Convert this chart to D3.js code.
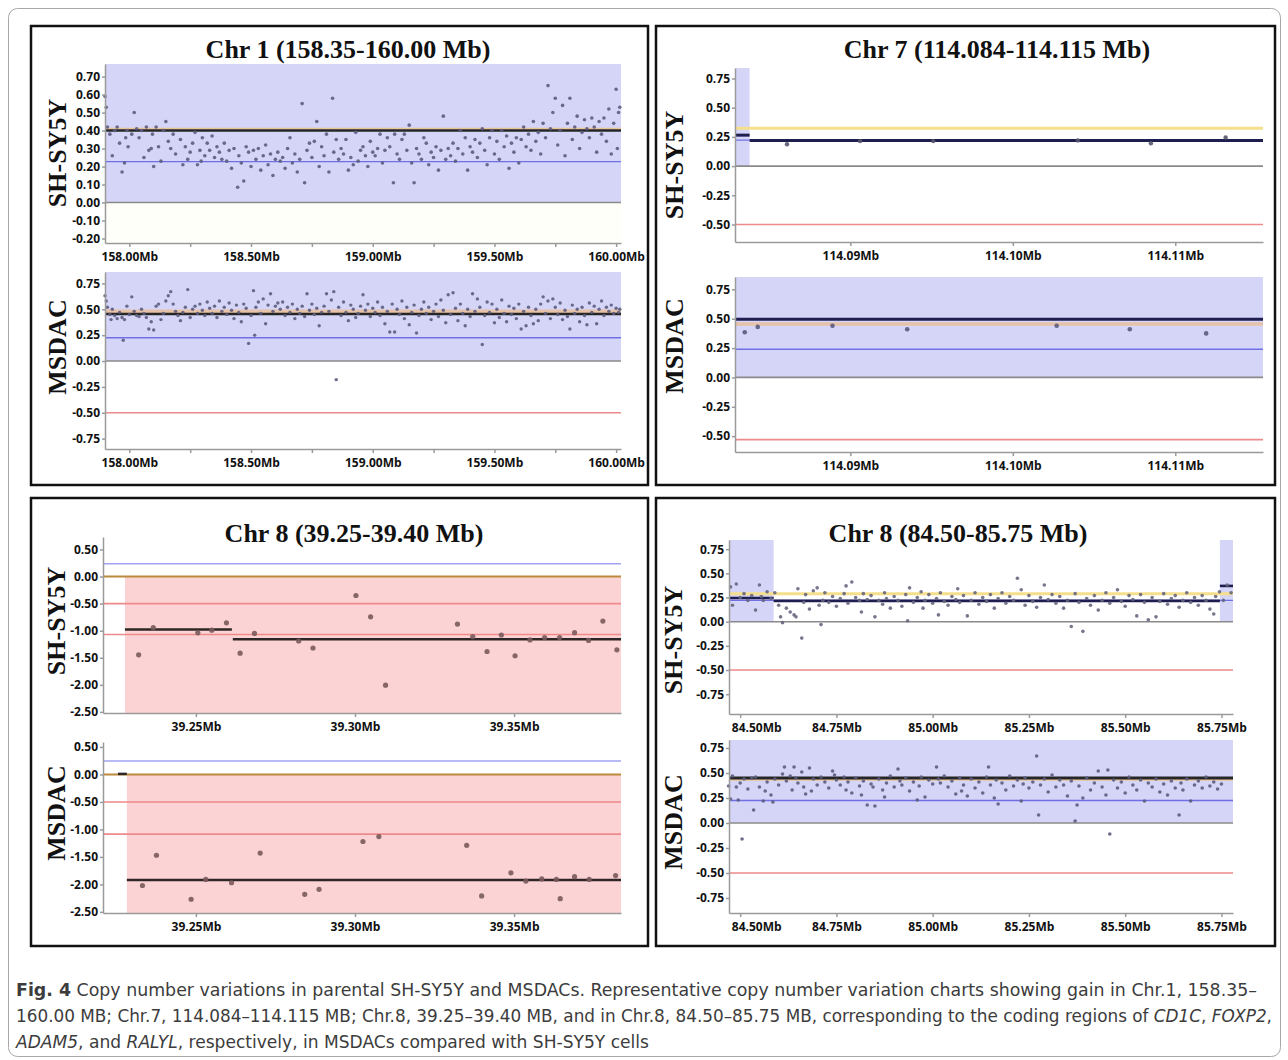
<!DOCTYPE html>
<html>
<head>
<meta charset="utf-8">
<script src="https://cdn.jsdelivr.net/npm/d3@7"></script>
<style>
  body { margin: 0; background: #fff; }
  svg { display: block; }
</style>
</head>
<body>
<script>
"use strict"

// ---------- data (Mb, log2 ratio) ----------
const titles = ['Chr 1 (158.35-160.00 Mb)', 'Chr 7 (114.084-114.115 Mb)', 'Chr 8 (39.25-39.40 Mb)', 'Chr 8 (84.50-85.75 Mb)']
const trackNames = ['SH-SY5Y', 'MSDAC']

const chr1_sh = [
  [157.900,0.59],[157.905,0.53],[157.910,0.42],[157.920,0.38],[157.930,0.26],[157.940,0.40],[157.950,0.42],[157.960,0.33],[157.970,0.17],[157.980,0.22],[157.985,0.36],[157.990,0.40],[157.995,0.31],
  [158.010,0.38],[158.020,0.50],[158.030,0.41],[158.040,0.36],[158.050,0.40],[158.060,0.25],[158.070,0.42],[158.080,0.29],[158.090,0.30],[158.095,0.38],[158.100,0.20],
  [158.110,0.42],[158.120,0.31],[158.130,0.23],[158.140,0.40],[158.150,0.45],[158.160,0.34],[158.170,0.30],[158.180,0.38],[158.190,0.27],
  [158.210,0.35],[158.220,0.21],[158.230,0.31],[158.240,0.24],[158.250,0.28],[158.260,0.33],[158.270,0.39],[158.280,0.21],[158.290,0.29],[158.295,0.23],
  [158.300,0.36],[158.310,0.26],[158.320,0.33],[158.330,0.29],[158.340,0.37],[158.350,0.25],[158.360,0.31],[158.370,0.28],[158.380,0.24],[158.390,0.33],
  [158.400,0.23],[158.410,0.29],[158.420,0.19],[158.430,0.30],[158.445,0.085],[158.450,0.26],[158.460,0.22],[158.470,0.12],[158.480,0.31],[158.490,0.28],[158.500,0.20],
  [158.510,0.29],[158.520,0.24],[158.530,0.30],[158.540,0.18],[158.550,0.26],[158.560,0.32],[158.570,0.21],[158.580,0.27],[158.590,0.15],[158.600,0.24],
  [158.610,0.28],[158.620,0.23],[158.630,0.25],[158.640,0.19],[158.650,0.30],[158.660,0.36],[158.670,0.22],[158.680,0.27],[158.690,0.17],[158.700,0.24],
  [158.710,0.55],[158.720,0.11],[158.730,0.29],[158.740,0.33],[158.750,0.25],[158.760,0.34],[158.770,0.45],[158.780,0.20],[158.790,0.31],[158.800,0.26],
  [158.810,0.38],[158.820,0.17],[158.835,0.58],[158.840,0.28],[158.850,0.35],[158.860,0.24],[158.870,0.30],[158.880,0.27],[158.890,0.35],[158.900,0.18],
  [158.910,0.25],[158.920,0.21],[158.930,0.39],[158.940,0.23],[158.950,0.29],[158.960,0.31],[158.970,0.26],[158.980,0.20],[158.990,0.34],[159.000,0.28],
  [159.010,0.26],[159.020,0.30],[159.030,0.38],[159.040,0.22],[159.050,0.29],[159.060,0.36],[159.070,0.31],[159.085,0.11],[159.090,0.38],[159.100,0.27],
  [159.110,0.24],[159.120,0.35],[159.130,0.38],[159.140,0.29],[159.150,0.43],[159.160,0.22],[159.170,0.11],[159.180,0.30],[159.190,0.27],[159.200,0.24],
  [159.210,0.36],[159.220,0.33],[159.230,0.21],[159.240,0.28],[159.250,0.25],[159.260,0.31],[159.270,0.18],[159.280,0.29],[159.290,0.48],[159.300,0.24],
  [159.310,0.30],[159.320,0.26],[159.330,0.33],[159.340,0.23],[159.350,0.30],[159.360,0.40],[159.370,0.27],[159.380,0.36],[159.390,0.18],[159.400,0.31],
  [159.410,0.28],[159.420,0.35],[159.430,0.25],[159.440,0.33],[159.450,0.41],[159.460,0.29],[159.470,0.21],[159.480,0.36],[159.490,0.40],[159.500,0.27],
  [159.510,0.34],[159.520,0.24],[159.530,0.40],[159.540,0.31],[159.550,0.37],[159.560,0.19],[159.570,0.33],[159.580,0.28],[159.590,0.36],[159.600,0.22],
  [159.610,0.35],[159.620,0.42],[159.630,0.31],[159.640,0.38],[159.650,0.29],[159.660,0.45],[159.670,0.34],[159.680,0.39],[159.690,0.27],[159.700,0.44],
  [159.710,0.36],[159.720,0.65],[159.730,0.41],[159.740,0.50],[159.750,0.58],[159.760,0.32],[159.770,0.40],[159.780,0.54],[159.790,0.26],[159.800,0.44],
  [159.810,0.58],[159.820,0.35],[159.830,0.42],[159.840,0.48],[159.850,0.30],[159.860,0.39],[159.870,0.46],[159.880,0.41],[159.890,0.36],[159.900,0.47],
  [159.910,0.42],[159.920,0.28],[159.930,0.45],[159.940,0.38],[159.950,0.47],[159.960,0.34],[159.970,0.52],[159.980,0.27],[159.990,0.44],[160.000,0.63],[160.005,0.30],[160.010,0.50],[160.015,0.53]
]

const chr1_ms = [
  [157.900,0.63],[157.905,0.58],[157.910,0.52],[157.920,0.45],[157.925,0.40],[157.930,0.50],[157.940,0.44],[157.950,0.41],[157.960,0.47],[157.970,0.42],[157.975,0.20],[157.980,0.40],[157.990,0.53],
  [158.000,0.45],[158.010,0.62],[158.020,0.48],[158.030,0.44],[158.040,0.43],[158.050,0.50],[158.060,0.46],[158.070,0.42],[158.080,0.31],[158.090,0.38],[158.100,0.30],
  [158.110,0.53],[158.120,0.55],[158.130,0.40],[158.140,0.46],[158.150,0.58],[158.160,0.63],[158.170,0.67],[158.180,0.55],[158.190,0.48],[158.200,0.44],
  [158.210,0.39],[158.220,0.47],[158.230,0.52],[158.240,0.69],[158.250,0.42],[158.260,0.50],[158.270,0.53],[158.280,0.46],[158.290,0.55],[158.300,0.49],
  [158.310,0.44],[158.320,0.57],[158.330,0.51],[158.340,0.46],[158.350,0.53],[158.360,0.42],[158.370,0.58],[158.380,0.48],[158.390,0.52],[158.400,0.45],
  [158.410,0.56],[158.420,0.49],[158.430,0.41],[158.440,0.54],[158.450,0.47],[158.460,0.38],[158.470,0.55],[158.480,0.51],[158.490,0.17],[158.500,0.44],
  [158.510,0.68],[158.515,0.25],[158.520,0.52],[158.530,0.57],[158.540,0.46],[158.550,0.60],[158.560,0.36],[158.570,0.54],[158.580,0.65],[158.590,0.48],
  [158.600,0.53],[158.610,0.56],[158.620,0.50],[158.630,0.57],[158.640,0.44],[158.650,0.52],[158.660,0.47],[158.670,0.55],[158.680,0.41],[158.690,0.50],
  [158.700,0.46],[158.710,0.53],[158.720,0.43],[158.730,0.65],[158.740,0.49],[158.750,0.55],[158.760,0.45],[158.770,0.51],[158.780,0.34],[158.790,0.47],
  [158.800,0.53],[158.810,0.65],[158.820,0.48],[158.830,0.59],[158.840,0.67],[158.850,-0.18],[158.860,0.52],[158.870,0.44],[158.880,0.57],[158.890,0.47],
  [158.900,0.39],[158.910,0.54],[158.920,0.50],[158.930,0.42],[158.940,0.46],[158.950,0.53],[158.960,0.64],[158.970,0.49],[158.980,0.55],[158.990,0.43],
  [159.000,0.51],[159.010,0.47],[159.020,0.57],[159.030,0.44],[159.040,0.52],[159.050,0.36],[159.060,0.48],[159.070,0.28],[159.080,0.55],[159.090,0.28],
  [159.100,0.50],[159.110,0.45],[159.120,0.58],[159.130,0.41],[159.140,0.52],[159.150,0.35],[159.160,0.47],[159.170,0.54],[159.180,0.27],[159.190,0.44],
  [159.200,0.50],[159.210,0.57],[159.220,0.46],[159.230,0.52],[159.240,0.40],[159.250,0.48],[159.260,0.55],[159.270,0.43],[159.280,0.59],[159.290,0.49],
  [159.300,0.37],[159.310,0.64],[159.320,0.45],[159.330,0.66],[159.340,0.51],[159.350,0.39],[159.360,0.55],[159.370,0.46],[159.380,0.34],[159.390,0.50],
  [159.400,0.43],[159.410,0.65],[159.420,0.48],[159.430,0.60],[159.440,0.52],[159.450,0.16],[159.460,0.44],[159.470,0.57],[159.480,0.47],[159.490,0.55],
  [159.500,0.37],[159.510,0.50],[159.520,0.42],[159.530,0.59],[159.540,0.46],[159.550,0.38],[159.560,0.53],[159.570,0.45],[159.580,0.51],[159.590,0.41],
  [159.600,0.55],[159.610,0.31],[159.620,0.48],[159.630,0.34],[159.640,0.52],[159.650,0.44],[159.660,0.36],[159.670,0.50],[159.680,0.39],[159.690,0.55],
  [159.700,0.62],[159.710,0.46],[159.720,0.58],[159.730,0.41],[159.740,0.60],[159.750,0.52],[159.760,0.45],[159.770,0.56],[159.780,0.40],[159.790,0.49],
  [159.800,0.43],[159.810,0.31],[159.820,0.54],[159.830,0.46],[159.840,0.50],[159.850,0.38],[159.860,0.52],[159.870,0.44],[159.880,0.35],[159.890,0.56],
  [159.900,0.47],[159.910,0.53],[159.920,0.36],[159.930,0.50],[159.940,0.58],[159.950,0.44],[159.960,0.52],[159.970,0.48],[159.980,0.54],[159.990,0.46],[160.000,0.51],[160.010,0.47],[160.015,0.50]
]

const chr7_sh = [[114.0861,0.187],[114.0906,0.214],[114.0951,0.214],[114.1040,0.220],[114.1085,0.195],[114.1131,0.245]]
const chr7_ms = [[114.0835,0.385],[114.0843,0.430],[114.0889,0.440],[114.0935,0.410],[114.1027,0.440],[114.1072,0.410],[114.1119,0.375]]

const chr8a_sh = [
  [39.2320,-1.445],[39.2366,-0.945],[39.2506,-1.04],[39.2550,-0.99],[39.2596,-0.854],[39.2639,-1.415],[39.2684,-1.05],[39.2823,-1.19],
  [39.2868,-1.32],[39.3003,-0.35],[39.3049,-0.744],[39.3096,-2.006],[39.3322,-0.878],[39.3370,-1.11],[39.3415,-1.384],[39.3460,-1.08],
  [39.3503,-1.463],[39.3550,-1.17],[39.3596,-1.128],[39.3643,-1.128],[39.3690,-1.037],[39.3734,-1.18],[39.3779,-0.823],[39.3823,-1.354]
]
const chr8a_ms = [
  [39.2332,-2.02],[39.2376,-1.47],[39.2485,-2.27],[39.2531,-1.91],[39.2612,-1.97],[39.2702,-1.43],[39.2842,-2.18],[39.2887,-2.09],
  [39.3025,-1.22],[39.3075,-1.13],[39.3351,-1.29],[39.3398,-2.21],[39.3490,-1.79],[39.3537,-1.94],[39.3587,-1.90],[39.3633,-1.91],
  [39.3645,-2.26],[39.3690,-1.86],[39.3736,-1.91],[39.3819,-1.84]
]

const chr8b_sh = [
  [84.475,0.36],[84.480,0.17],[84.490,0.39],[84.500,0.25],[84.510,0.29],[84.520,0.22],[84.530,0.27],[84.540,0.12],[84.550,0.38],[84.555,0.26],
  [84.560,0.22],[84.570,0.31],[84.580,0.24],[84.590,0.30],[84.600,0.17],[84.605,0.05],[84.610,-0.01],[84.620,0.14],[84.630,0.10],[84.640,0.07],
  [84.645,0.05],[84.650,0.34],[84.660,-0.17],[84.665,0.20],[84.670,0.28],[84.680,0.13],[84.690,0.32],[84.700,0.35],[84.705,0.17],[84.710,-0.03],
  [84.715,0.22],[84.720,0.30],[84.730,0.20],[84.740,0.26],[84.750,0.16],[84.760,0.24],[84.770,0.29],[84.775,0.37],[84.780,0.19],[84.790,0.41],
  [84.800,0.25],[84.810,0.22],[84.815,0.10],[84.820,0.29],[84.830,0.23],[84.840,0.27],[84.850,0.05],[84.860,0.22],[84.870,0.18],[84.875,0.30],
  [84.880,0.24],[84.890,0.14],[84.900,0.26],[84.910,0.22],[84.920,0.16],[84.930,0.28],[84.935,0.01],[84.940,0.35],[84.950,0.20],[84.960,0.25],
  [84.970,0.31],[84.975,0.14],[84.980,0.22],[84.990,0.28],[85.000,0.19],[85.010,0.24],[85.015,0.07],[85.020,0.30],[85.030,0.21],[85.040,0.17],
  [85.050,0.26],[85.060,0.23],[85.065,0.34],[85.070,0.20],[85.080,0.27],[85.090,0.06],[85.100,0.22],[85.110,0.30],[85.120,0.18],[85.130,0.25],
  [85.140,0.21],[85.150,0.28],[85.160,0.14],[85.170,0.24],[85.180,0.30],[85.190,0.19],[85.200,0.26],[85.210,0.22],[85.220,0.45],[85.230,0.33],
  [85.240,0.17],[85.250,0.27],[85.260,0.21],[85.270,0.15],[85.280,0.25],[85.290,0.38],[85.300,0.23],[85.310,0.28],[85.320,0.19],[85.330,0.26],
  [85.340,0.14],[85.350,0.22],[85.360,-0.05],[85.370,0.29],[85.380,0.20],[85.390,-0.10],[85.400,0.24],[85.410,0.17],[85.420,0.27],[85.430,0.12],
  [85.440,0.22],[85.450,0.30],[85.460,0.19],[85.470,0.25],[85.480,0.33],[85.490,0.21],[85.500,0.16],[85.510,0.27],[85.520,0.23],[85.530,0.06],
  [85.540,0.28],[85.550,0.20],[85.560,0.02],[85.570,0.25],[85.580,0.05],[85.590,0.21],[85.600,0.29],[85.610,0.18],[85.620,0.24],[85.630,0.27],
  [85.640,0.15],[85.650,0.22],[85.660,0.30],[85.670,0.20],[85.680,0.25],[85.690,0.17],[85.700,0.27],[85.710,0.22],[85.720,0.13],[85.730,0.08],
  [85.735,0.26],[85.745,0.31],[85.755,0.22],[85.765,0.38],[85.775,0.30]
]

const chr8b_ms = [
  [84.470,0.37],[84.475,0.24],[84.480,0.47],[84.490,0.36],[84.495,0.23],[84.500,0.40],[84.505,-0.16],[84.510,0.44],[84.520,0.34],[84.530,0.45],
  [84.535,0.13],[84.540,0.46],[84.550,0.36],[84.560,0.22],[84.565,0.32],[84.570,0.41],[84.580,0.28],[84.585,0.21],[84.590,0.44],[84.600,0.38],
  [84.610,0.49],[84.615,0.56],[84.620,0.42],[84.630,0.47],[84.635,0.33],[84.640,0.56],[84.645,0.45],[84.650,0.40],[84.660,0.51],[84.665,0.36],
  [84.670,0.29],[84.680,0.55],[84.685,0.32],[84.690,0.44],[84.700,0.38],[84.710,0.46],[84.720,0.41],[84.730,0.35],[84.740,0.52],[84.745,0.48],
  [84.750,0.43],[84.760,0.38],[84.770,0.46],[84.775,0.33],[84.780,0.41],[84.790,0.30],[84.800,0.45],[84.810,0.37],[84.815,0.28],[84.820,0.42],
  [84.830,0.18],[84.840,0.39],[84.845,0.36],[84.850,0.17],[84.860,0.44],[84.870,0.33],[84.875,0.26],[84.880,0.40],[84.890,0.47],[84.900,0.36],
  [84.910,0.54],[84.915,0.42],[84.920,0.38],[84.930,0.45],[84.940,0.32],[84.950,0.41],[84.960,0.23],[84.965,0.37],[84.970,0.46],[84.980,0.26],
  [84.990,0.43],[85.000,0.39],[85.010,0.56],[85.015,0.44],[85.020,0.40],[85.030,0.47],[85.040,0.36],[85.050,0.42],[85.060,0.29],[85.070,0.45],
  [85.075,0.32],[85.080,0.38],[85.090,0.27],[85.100,0.44],[85.110,0.35],[85.120,0.41],[85.130,0.30],[85.140,0.46],[85.145,0.56],[85.150,0.38],
  [85.160,0.25],[85.165,0.43],[85.170,0.19],[85.180,0.40],[85.190,0.33],[85.200,0.47],[85.210,0.37],[85.220,0.43],[85.230,0.22],[85.235,0.39],
  [85.240,0.45],[85.250,0.35],[85.260,0.41],[85.270,0.67],[85.275,0.08],[85.280,0.38],[85.290,0.44],[85.300,0.31],[85.310,0.48],[85.320,0.36],
  [85.330,0.43],[85.340,0.38],[85.350,0.27],[85.360,0.42],[85.370,0.02],[85.375,0.18],[85.380,0.37],[85.390,0.25],[85.400,0.45],[85.410,0.33],
  [85.420,0.40],[85.430,0.52],[85.440,0.36],[85.450,0.28],[85.455,0.53],[85.460,-0.11],[85.470,0.43],[85.480,0.35],[85.490,0.41],[85.500,0.30],
  [85.510,0.46],[85.520,0.38],[85.530,0.33],[85.540,0.43],[85.550,0.22],[85.560,0.40],[85.570,0.36],[85.580,0.44],[85.590,0.31],[85.600,0.39],
  [85.610,0.28],[85.620,0.42],[85.630,0.35],[85.640,0.08],[85.645,0.40],[85.650,0.33],[85.660,0.44],[85.670,0.22],[85.680,0.38],[85.690,0.42],
  [85.700,0.35],[85.710,0.46],[85.720,0.37],[85.730,0.41],[85.740,0.34],[85.750,0.39]
]

// segment means [start Mb, end Mb, value]
const chr1_sh_segs = [[157.90, 160.02, 0.40]]
const chr1_ms_segs = [[157.90, 160.02, 0.455]]
const chr7_sh_segs = [[114.0829, 114.0838, 0.265], [114.0838, 114.1154, 0.22]]
const chr7_ms_segs = [[114.0829, 114.1154, 0.495]]
const chr8a_sh_segs = [[39.2277, 39.2613, -0.98], [39.2616, 39.3836, -1.16]]
const chr8a_ms_segs = [[39.2255, 39.2283, 0.01], [39.2283, 39.3836, -1.92]]
const chr8b_sh_segs = [[84.471, 84.587, 0.245], [84.587, 85.746, 0.215], [85.746, 85.78, 0.37]]
const chr8b_ms_segs = [[84.471, 85.78, 0.45]]

// called regions [kind, start Mb, end Mb, low, high]
const chr1_sh_bands = [['below', 157.90, 160.02, -0.225, 0], ['gain', 157.90, 160.02, 0, 0.77]]
const chr1_ms_bands = [['gain', 157.90, 160.02, 0, 0.86]]
const chr7_sh_bands = [['gain', 114.0829, 114.0838, 0, 0.84]]
const chr7_ms_bands = [['gain', 114.0829, 114.1154, 0, 0.855]]
const chr8a_sh_bands = [['loss', 39.2277, 39.3836, -2.52, 0]]
const chr8a_ms_bands = [['loss', 39.2283, 39.3836, -2.52, 0]]
const chr8b_sh_bands = [['gain', 84.471, 84.587, 0, 0.845], ['gain', 85.746, 85.78, 0, 0.845]]
const chr8b_ms_bands = [['gain', 84.471, 85.78, 0, 0.83]]

// reference levels [kind, value]
const chr1_sh_refs = [['orange', 0.412], ['blue', 0.227], ['zero', 0]]
const chr1_ms_refs = [['tan', 0.48], ['blue', 0.225], ['zero', 0], ['red', -0.5]]
const chr7_sh_refs = [['yellow', 0.325], ['blue', 0.222], ['zero', 0], ['red', -0.5]]
const chr7_ms_refs = [['tan', 0.455], ['blue', 0.24], ['zero', 0], ['red', -0.53]]
const chr8a_sh_refs = [['lightblue', 0.235], ['brown', 0], ['red', -0.5], ['red', -1.07]]
const chr8a_ms_refs = [['lightblue', 0.244], ['brown', 0], ['red', -0.5], ['red', -1.085]]
const chr8b_sh_refs = [['yellow', 0.29], ['blue', 0.22], ['zero', 0], ['red', -0.5]]
const chr8b_ms_refs = [['orange', 0.43], ['blue', 0.225], ['zero', 0], ['red', -0.5]]

// ticks
const chr1_sh_yticks = [0.70, 0.60, 0.50, 0.40, 0.30, 0.20, 0.10, 0.00, -0.10, -0.20]
const quarter_yticks = [0.75, 0.50, 0.25, 0.00, -0.25, -0.50, -0.75]
const chr7_yticks = [0.75, 0.50, 0.25, 0.00, -0.25, -0.50]
const chr8a_yticks = [0.50, 0.00, -0.50, -1.00, -1.50, -2.00, -2.50]
const chr1_xticks = [158.00, 158.25, 158.50, 158.75, 159.00, 159.25, 159.50, 159.75, 160.00]
const chr1_xlabels = [158.00, 158.50, 159.00, 159.50, 160.00]
const chr7_xticks = [114.09, 114.10, 114.11]
const chr8a_xticks = [39.25, 39.30, 39.35]
const chr8b_xticks = [84.50, 84.75, 85.00, 85.25, 85.50, 85.75]

// caption
const captionLines = [
  [['Fig. 4', 'b'], [' Copy number variations in parental SH-SY5Y and MSDACs. Representative copy number variation charts showing gain in Chr.1, 158.35\u2013', 'n']],
  [['160.00 MB; Chr.7, 114.084\u2013114.115 MB; Chr.8, 39.25\u201339.40 MB, and in Chr.8, 84.50\u201385.75 MB, corresponding to the coding regions of ', 'n'], ['CD1C', 'i'], [', ', 'n'], ['FOXP2', 'i'], [',', 'n']],
  [['ADAM5', 'i'], [', and ', 'n'], ['RALYL', 'i'], [', respectively, in MSDACs compared with SH-SY5Y cells', 'n']]
]

// ---------- styles ----------
const bandColor = { gain: '#d5d5f8', loss: '#fbd3d4', below: '#fffffa' }
const refStyle = {
  orange: { c: '#ebc494', w: 1.5 },
  tan: { c: '#e6c2a8', w: 3.5 },
  yellow: { c: '#f5df8c', w: 3 },
  blue: { c: '#7070e4', w: 1.3 },
  lightblue: { c: '#a2a2f3', w: 1.6 },
  zero: { c: '#8a8a8a', w: 1.6 },
  brown: { c: '#bb8a3c', w: 2 },
  red: { c: '#ee8a8a', w: 1.6 }
}
const serif = '"Liberation Serif", "Times New Roman", serif'
const sans = '"Open Sans", "Noto Sans", sans-serif'

const svg = d3.select('body').append('svg').attr('width', 1288).attr('height', 1060)

// outer frame and panel boxes
svg.append('rect').attr('x', 8.5).attr('y', 8.5).attr('width', 1272).attr('height', 1048)
  .attr('rx', 9).attr('fill', 'none').attr('stroke', '#a8a8a8').attr('stroke-width', 1)

const boxes = [[31, 26, 617, 459], [656, 26, 619, 459], [31, 498, 617, 448], [656, 498, 619, 448]]
svg.selectAll('rect.panel').data(boxes).join('rect')
  .attr('class', 'panel')
  .attr('x', d => d[0]).attr('y', d => d[1]).attr('width', d => d[2]).attr('height', d => d[3])
  .attr('fill', '#fff').attr('stroke', '#111').attr('stroke-width', 2.5)

const titlePos = [[348, 58], [997, 58], [354, 542], [958, 542]]
svg.selectAll('text.title').data(titles).join('text')
  .attr('class', 'title')
  .attr('x', (d, i) => titlePos[i][0]).attr('y', (d, i) => titlePos[i][1])
  .attr('text-anchor', 'middle')
  .attr('font-family', serif).attr('font-weight', 'bold').attr('font-size', 26)
  .attr('fill', '#111')
  .text(d => d)

const plots = [
  { pts: chr1_sh, segs: chr1_sh_segs, bands: chr1_sh_bands, refs: chr1_sh_refs, xd: [157.90, 160.02], yd: [-0.225, 0.77],
    box: [105, 621, 64, 243], yt: chr1_sh_yticks, xt: chr1_xticks, xl: chr1_xlabels, name: 0, lab: [57, 153], dot: '#5c5c7e', r: 1.8, seg: '#262626', sw: 2.5 },
  { pts: chr1_ms, segs: chr1_ms_segs, bands: chr1_ms_bands, refs: chr1_ms_refs, xd: [157.90, 160.02], yd: [-0.85, 0.86],
    box: [105, 621, 272, 449], yt: quarter_yticks, xt: chr1_xticks, xl: chr1_xlabels, name: 1, lab: [57, 347], dot: '#5c5c7e', r: 1.7, seg: '#262626', sw: 2.5 },
  { pts: chr7_sh, segs: chr7_sh_segs, bands: chr7_sh_bands, refs: chr7_sh_refs, xd: [114.0829, 114.1154], yd: [-0.65, 0.84],
    box: [735, 1263, 68, 242], yt: chr7_yticks, xt: chr7_xticks, xl: chr7_xticks, name: 0, lab: [674, 165], dot: '#56566e', r: 2.2, seg: '#1e1e50', sw: 3 },
  { pts: chr7_ms, segs: chr7_ms_segs, bands: chr7_ms_bands, refs: chr7_ms_refs, xd: [114.0829, 114.1154], yd: [-0.635, 0.855],
    box: [735, 1263, 277, 452], yt: chr7_yticks, xt: chr7_xticks, xl: chr7_xticks, name: 1, lab: [674, 346], dot: '#5a5a7c', r: 2.3, seg: '#1e1e50', sw: 3 },
  { pts: chr8a_sh, segs: chr8a_sh_segs, bands: chr8a_sh_bands, refs: chr8a_sh_refs, xd: [39.2208, 39.3836], yd: [-2.52, 0.73],
    box: [103, 621, 537, 713], yt: chr8a_yticks, xt: chr8a_xticks, xl: chr8a_xticks, name: 0, lab: [56, 621], dot: '#7a5a5c', r: 2.6, seg: '#2e2626', sw: 2.5 },
  { pts: chr8a_ms, segs: chr8a_ms_segs, bands: chr8a_ms_bands, refs: chr8a_ms_refs, xd: [39.2208, 39.3836], yd: [-2.52, 0.59],
    box: [103, 621, 742, 913], yt: chr8a_yticks, xt: chr8a_xticks, xl: chr8a_xticks, name: 1, lab: [56, 813], dot: '#7a5a5c', r: 2.6, seg: '#2e2626', sw: 2.5 },
  { pts: chr8b_sh, segs: chr8b_sh_segs, bands: chr8b_sh_bands, refs: chr8b_sh_refs, xd: [84.471, 85.78], yd: [-0.955, 0.845],
    box: [729, 1233, 540, 714], yt: quarter_yticks, xt: chr8b_xticks, xl: chr8b_xticks, name: 0, lab: [673, 640], dot: '#666680', r: 1.8, seg: '#1e1e50', sw: 2.6, shift: 16 },
  { pts: chr8b_ms, segs: chr8b_ms_segs, bands: chr8b_ms_bands, refs: chr8b_ms_refs, xd: [84.471, 85.78], yd: [-0.9, 0.83],
    box: [729, 1233, 740, 913], yt: quarter_yticks, xt: chr8b_xticks, xl: chr8b_xticks, name: 1, lab: [673, 822], dot: '#5c5c7e', r: 1.8, seg: '#262626', sw: 2.8, shift: 16 }
]

function drawPlot(p) {
  const [x0, x1, y0, y1] = p.box
  const x = d3.scaleLinear(p.xd, [x0, x1])
  const y = d3.scaleLinear(p.yd, [y1, y0])
  const g = svg.append('g')

  g.selectAll('rect.band').data(p.bands).join('rect')
    .attr('class', 'band')
    .attr('x', d => x(d[1])).attr('width', d => x(d[2]) - x(d[1]))
    .attr('y', d => y(d[4])).attr('height', d => y(d[3]) - y(d[4]))
    .attr('fill', d => bandColor[d[0]])

  g.selectAll('line.ref').data(p.refs).join('line')
    .attr('class', 'ref')
    .attr('x1', x0).attr('x2', x1)
    .attr('y1', d => y(d[1])).attr('y2', d => y(d[1]))
    .attr('stroke', d => refStyle[d[0]].c)
    .attr('stroke-width', d => refStyle[d[0]].w)

  g.selectAll('line.seg').data(p.segs).join('line')
    .attr('class', 'seg')
    .attr('x1', d => x(d[0])).attr('x2', d => x(d[1]))
    .attr('y1', d => y(d[2])).attr('y2', d => y(d[2]))
    .attr('stroke', p.seg).attr('stroke-width', p.sw)

  g.selectAll('circle').data(p.pts).join('circle')
    .attr('cx', d => x(d[0])).attr('cy', d => y(d[1]))
    .attr('r', p.r).attr('fill', p.dot).attr('opacity', 0.9)

  const yAxis = d3.axisLeft(y).tickValues(p.yt).tickFormat(d => d.toFixed(2))
    .tickSize(3).tickPadding(2).tickSizeOuter(0)
  const isLabel = d => p.xl.some(v => Math.abs(v - d) < 1e-9)
  const xAxis = d3.axisBottom(x).tickValues(p.xt).tickFormat(d => isLabel(d) ? d.toFixed(2) + 'Mb' : '')
    .tickSize(4).tickPadding(5).tickSizeOuter(0)

  const ya = g.append('g').attr('transform', `translate(${x0},0)`).call(yAxis)
  const xa = g.append('g').attr('transform', `translate(0,${y1})`).call(xAxis)
  ;[ya, xa].forEach(a => {
    a.attr('font-family', sans).attr('font-size', 12).attr('font-weight', 'bold')
    a.selectAll('path, line').attr('stroke', '#9a9a9a').attr('stroke-width', 1.5)
    a.selectAll('text').attr('fill', '#111')
  })
  if (p.shift) {
    xa.selectAll('text').filter(d => Math.abs(d - p.xt[0]) < 1e-9).attr('dx', p.shift)
  }

  g.append('text')
    .attr('transform', `translate(${p.lab[0]},${p.lab[1]}) rotate(-90)`)
    .attr('text-anchor', 'middle').attr('dy', '0.35em')
    .attr('font-family', serif).attr('font-weight', 'bold').attr('font-size', 26)
    .attr('fill', '#111')
    .text(trackNames[p.name])
}

plots.forEach(drawPlot)

// caption
const capBase = [996, 1022, 1048]
const capWidth = [1241, 1256, 633]
captionLines.forEach((line, i) => {
  const t = svg.append('text')
    .attr('x', 16).attr('y', capBase[i])
    .attr('font-family', '"Liberation Sans Narrow", "DejaVu Sans Condensed", "Roboto", sans-serif')
    .attr('font-size', 18).attr('fill', '#3c3c3c')
    .attr('textLength', capWidth[i]).attr('lengthAdjust', 'spacingAndGlyphs')
  t.selectAll('tspan').data(line).join('tspan')
    .attr('font-weight', d => d[1] === 'b' ? 'bold' : 'normal')
    .attr('font-style', d => d[1] === 'i' ? 'italic' : 'normal')
    .text(d => d[0])
})
</script>
</body>
</html>
